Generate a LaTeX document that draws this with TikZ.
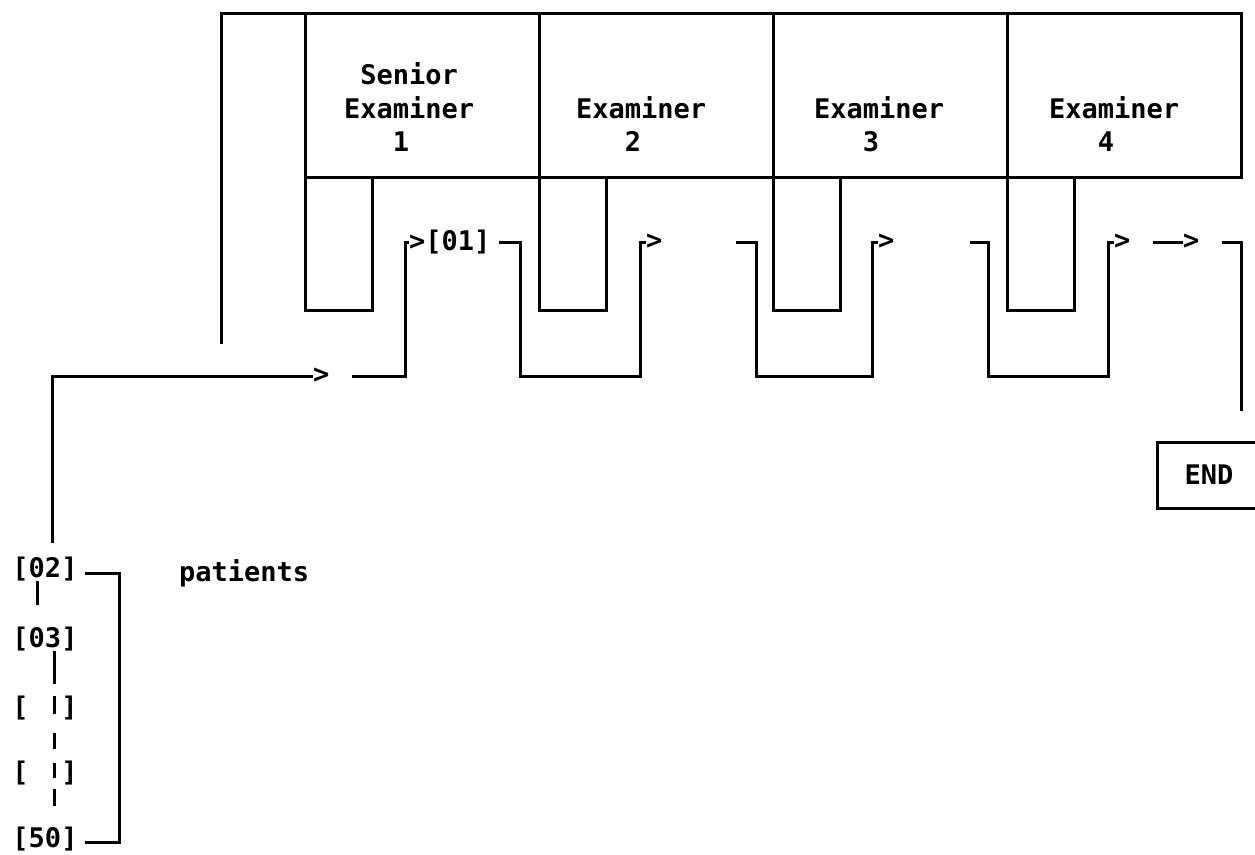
\documentclass[tikz,border=0pt]{standalone}
\usepackage{fontspec}
\setmonofont{DejaVu Sans Mono}
\usetikzlibrary{positioning}
\tikzset{
exbox/.style={
	  draw, minimum width=234pt, minimum height=164pt,
	    inner sep=0pt, outer sep=0pt},
txt/.style={
	  font=\ttfamily\bfseries\fontsize{27}{33.5}\selectfont,
	    inner sep=0pt, outer sep=0pt, align=center},
lab/.style={
	  txt, align=left, anchor=south west}
}

\begin{document}
\begin{tikzpicture}[x=1pt, y=-1pt, line width=3pt]
	\useasboundingbox (0,0) rectangle (1255,854);
	% examiner desks
	\node[exbox] (ex1) at (422,95) {};
	\node[exbox, right=0pt of ex1] (ex2) {};
	\node[exbox, right=0pt of ex2] (ex3) {};
	\node[exbox, right=0pt of ex3] (ex4) {};
	\node[lab] (lab1) at ([shift={(39pt,25pt)}]ex1.south west) {\phantom{E}Senior\\Examiner\\\phantom{Exa}1};
	\node[lab] (lab2) at ([shift={(37pt,25pt)}]ex2.south west) {Examiner\\\phantom{Exa}2};
	\node[lab] (lab3) at ([shift={(41pt,25pt)}]ex3.south west) {Examiner\\\phantom{Exa}3};
	\node[lab] (lab4) at ([shift={(42pt,25pt)}]ex4.south west) {Examiner\\\phantom{Exa}4};
	\foreach \i in {1,...,4}
		\draw (ex\i.south west) -- ++(0,133) -| ([xshift=67pt]ex\i.south west);
	\coordinate (back) at (221,344);
	\draw (back) |- (ex1.north west);

	% waiting patients
	\node[txt, anchor=base] (p02) at (45,577) {[02]};
	\node[txt, anchor=base] (p03) at (45,647) {[03]};
	\node[txt, anchor=base] (pa) at (45,716) {[\phantom{00}]};
	\node[txt, anchor=base] (pb) at (45,781) {[\phantom{00}]};
	\node[txt, anchor=base] (p50) at (45,847) {[50]};
	\node[txt, anchor=base west] (pat) at (179,581) {patients};
	\draw ([xshift=-8pt]p02.south) -- ++(0,24);
	\draw[dash pattern=on 33pt off 12pt on 18pt off 19pt on 16pt off 14pt on 15pt off 11pt on 17pt]
		([xshift=9pt]p03.south) -- ++(0,155);
	\draw ([shift={(7pt,-5pt)}]p02.east) -| ([shift={(42pt,-4pt)}]p50.east) -- ([shift={(7pt,-4pt)}]p50.east);

	% route of a patient
	\node[txt, anchor=west] (gt0) at (313,376) {>};
	\draw ([shift={(7pt,13pt)}]p02.north) |- (gt0.west);
	\coordinate (s1) at (352,376);
	\node[txt, anchor=west] (q1) at (409,242) {>[01]};
	\draw (s1) -| ([xshift=-4pt]q1.west) -- (q1.west);
	\coordinate (d1) at (520,376);
	\node[txt, anchor=west] (q2) at (646,242) {>};
	\draw ([xshift=9pt]q1.east) -| (d1) -| ([xshift=-6pt]q2.west) -- (q2.west);
	\coordinate (r2) at (736,242);
	\coordinate (d2) at (756,376);
	\node[txt, anchor=west] (q3) at (878,242) {>};
	\draw (r2) -| (d2) -| ([xshift=-6pt]q3.west) -- (q3.west);
	\coordinate (r3) at (970,242);
	\coordinate (d3) at (988,376);
	\node[txt, anchor=west] (q4) at (1114,242) {>};
	\draw (r3) -| (d3) -| ([xshift=-6pt]q4.west) -- (q4.west);
	\node[txt, anchor=west] (q5) at (1183,242) {>};
	\draw ([xshift=-30pt]q5.west) -- (q5.west);
	\coordinate (r5) at (1222,242);
	\coordinate (fin) at (1241,411);
	\draw (r5) -| (fin);
	\node[txt, draw, minimum width=104pt, minimum height=66pt] (end) at (1209,475) {END};
\end{tikzpicture}
\end{document}
